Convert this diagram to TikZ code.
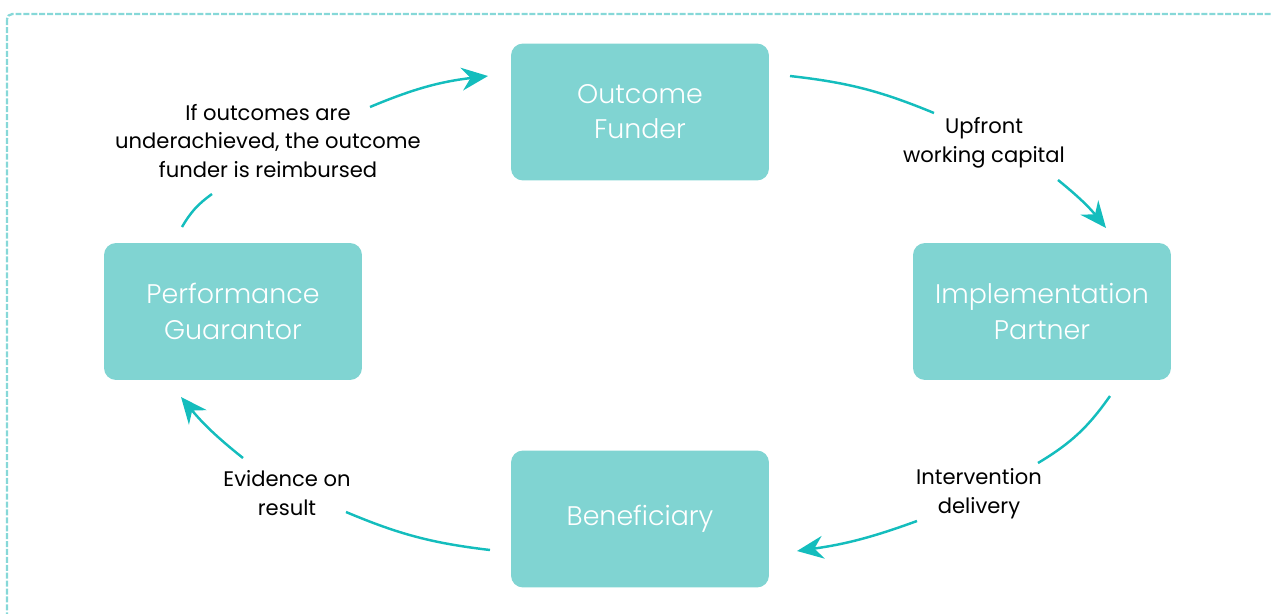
\documentclass[tikz,border=0pt]{standalone}
\usepackage{fontspec}
\setmainfont{Poppins}
\IfFontExistsTF{Poppins Light}{\newfontfamily\boxfont{Poppins Light}}{\newfontfamily\boxfont{Poppins}}
\usetikzlibrary{arrows.meta}
\definecolor{boxfill}{HTML}{80D4D2}
\definecolor{arrowc}{HTML}{14BDBD}
\definecolor{framec}{HTML}{86D8D8}
\begin{document}
\begin{tikzpicture}[x=0.02cm,y=-0.02cm,
  box/.style={draw=none,fill=boxfill,rounded corners=0.24cm,minimum width=5.16cm,minimum height=2.74cm,text=white,font=\boxfont\fontsize{15.3}{20}\selectfont,align=center,inner sep=0pt},
  lbl/.style={font=\fontsize{12}{16.4}\selectfont,align=center,text=black,inner sep=0pt},
  flow/.style={draw=arrowc,line width=1.4pt},
  head/.style={-{Stealth[length=15pt,width=13pt,inset=5pt]}}
]
\useasboundingbox (0,0) rectangle (1272,613);
\begin{scope}
\clip (0,0) rectangle (1272,613);
\draw[framec,line width=1.3pt,dash pattern=on 3.4pt off 1.1pt,rounded corners=3pt] (7,14) rectangle (1300,640);
\end{scope}

\node[box] (of) at (640,112) {Outcome\\Funder};
\node[box] (ip) at (1042,311.5) {Implementation\\Partner};
\node[box] (ben) at (640,519) {Beneficiary};
\node[box] (pg) at (233,311.5) {Performance\\Guarantor};

\node[lbl] (l1) at (268,141) {If outcomes are\\underachieved, the outcome\\funder is reimbursed};
\node[lbl] (l2) at (984,143) {Upfront\\working capital};
\node[lbl] (l3) at (979,494) {Intervention\\delivery};
\node[lbl] (l4) at (287,493) {Evidence on\\result};

\coordinate (a1s) at (182,227); \coordinate (a1e) at (212,194);
\coordinate (a1t) at (370,107); \coordinate (a1h) at (488,76);
\coordinate (a2s) at (790,76);  \coordinate (a2e) at (934,113);
\coordinate (a2t) at (1058,180); \coordinate (a2h) at (1106,228);
\coordinate (a3s) at (1110,396); \coordinate (a3e) at (1038,463);
\coordinate (a3t) at (917,521); \coordinate (a3h) at (797,551);
\coordinate (a4s) at (490,550); \coordinate (a4e) at (346,512);
\coordinate (a4t) at (243,458); \coordinate (a4h) at (181,397);

\draw[flow] (a1s) to[bend left=12] (a1e);
\draw[flow,head] (a1t) to[bend left=8] (a1h);
\draw[flow] (a2s) to[bend left=8] (a2e);
\draw[flow,head] (a2t) to[bend left=6] (a2h);
\draw[flow] (a3s) to[bend left=12] (a3e);
\draw[flow,head] (a3t) to[bend left=6] (a3h);
\draw[flow] (a4s) to[bend left=8] (a4e);
\draw[flow,head] (a4t) to[bend left=6] (a4h);
\end{tikzpicture}
\end{document}
